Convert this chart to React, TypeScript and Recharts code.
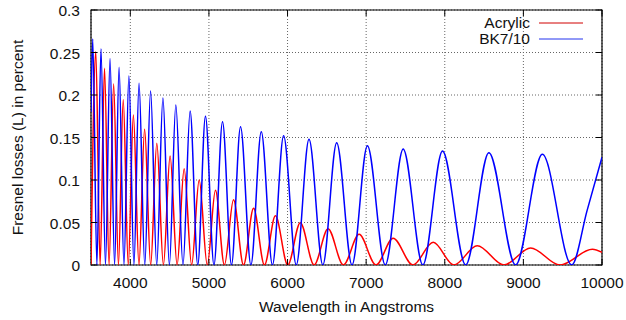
import { LineChart, Line, XAxis, YAxis, CartesianGrid, Legend, ReferenceArea } from "recharts";

// tick values
const wavelengthTicks = [4000, 5000, 6000, 7000, 8000, 9000, 10000];
const lossTicks = [0, 0.05, 0.1, 0.15, 0.2, 0.25, 0.3];

// [wavelength (A), loss]: fringe maxima and the zeros between them
const acrylic = [
  [3500, 0], [3561, 0.251], [3616, 0], [3672, 0.2314], [3730, 0], [3788, 0.213],
  [3849, 0], [3910, 0.1945], [3974, 0], [4039, 0.1765], [4110, 0], [4182, 0.1596],
  [4259, 0], [4337, 0.1431], [4421, 0], [4506, 0.1282], [4595, 0], [4685, 0.1133],
  [4780, 0], [4876, 0.1], [4979, 0], [5083, 0.0879], [5197, 0], [5313, 0.0768],
  [5440, 0], [5568, 0.0667], [5706, 0], [5846, 0.0578], [6003, 0], [6162, 0.0498],
  [6338, 0], [6515, 0.0427], [6710, 0], [6910, 0.0361], [7125, 0], [7343, 0.0314],
  [7595, 0], [7853, 0.0267], [8115, 0], [8413, 0.0227], [8752, 0], [9092, 0.02],
  [9465, 0], [9878, 0.0185], [10000, 0.015],
];

const bk7 = [
  [3500, 0.18], [3522, 0.266], [3575, 0], [3627, 0.2545], [3684, 0], [3742, 0.243],
  [3800, 0], [3857, 0.2326], [3919, 0], [3982, 0.2224], [4046, 0], [4111, 0.2138],
  [4184, 0], [4258, 0.2047], [4336, 0], [4415, 0.1965], [4497, 0], [4579, 0.1882],
  [4670, 0], [4761, 0.1812], [4858, 0], [4956, 0.175], [5064, 0], [5173, 0.1686],
  [5287, 0], [5402, 0.1627], [5534, 0], [5666, 0.1568], [5808, 0], [5950, 0.152],
  [6111, 0], [6273, 0.1478], [6449, 0], [6625, 0.1439], [6820, 0], [7016, 0.1404],
  [7243, 0], [7471, 0.1365], [7721, 0], [7971, 0.134], [8266, 0], [8561, 0.1321],
  [8901, 0], [9241, 0.1302], [9615, 0], [9810, 0.064], [10000, 0.1267],
];

const toRows = (pts: number[][]) => pts.map(([wl, loss]) => ({ wl, loss }));

const RED = "#ff0000";
const BLUE = "#0000ff";
const seriesColor: Record<string, string> = { Acrylic: "#d00000", "BK7/10": "#2233ee" };

const W = 626;
const H = 320;
const MARGIN = { top: 10, right: 24, bottom: 0, left: 0 };
const Y_AXIS_W = 91;
const X_AXIS_H = 55;
const PLOT_LEFT = MARGIN.left + Y_AXIS_W;
const PLOT_RIGHT = W - MARGIN.right;
const PLOT_TOP = MARGIN.top;
const PLOT_BOTTOM = H - MARGIN.bottom - X_AXIS_H;
const TICK = 6;
const FONT = "'Liberation Sans', Arial, Helvetica, sans-serif";
const FS = 15.5;
const INK = "#111";

// gnuplot style: labels outside, tick marks inside on both mirrored sides
function XTick({ x, y, payload }: any) {
  return (
    <g>
      <line x1={x} x2={x} y1={PLOT_BOTTOM} y2={PLOT_BOTTOM - TICK} stroke="#000" />
      <line x1={x} x2={x} y1={PLOT_TOP} y2={PLOT_TOP + TICK} stroke="#000" />
      <text x={x} y={y} textAnchor="middle" fontFamily={FONT} fontSize={FS} fill={INK}>
        {payload.value}
      </text>
    </g>
  );
}

function YTick({ x, y, payload }: any) {
  return (
    <g>
      <line x1={PLOT_LEFT} x2={PLOT_LEFT + TICK} y1={y} y2={y} stroke="#000" />
      <line x1={PLOT_RIGHT} x2={PLOT_RIGHT - TICK} y1={y} y2={y} stroke="#000" />
      <text x={x} y={y} dy="0.4em" textAnchor="end" fontFamily={FONT} fontSize={FS} fill={INK}>
        {payload.value}
      </text>
    </g>
  );
}

function Key({ payload }: any) {
  return (
    <div style={{ fontFamily: FONT, fontSize: FS, color: INK }}>
      {(payload || []).map((p: any) => (
        <div
          key={p.value}
          style={{ display: "flex", alignItems: "center", justifyContent: "flex-end", height: 16 }}
        >
          <span style={{ lineHeight: "16px" }}>{p.value}</span>
          <svg width={44} height={4} style={{ marginLeft: 9, display: "block" }}>
            <line x1={0} x2={44} y1={2} y2={2} stroke={seriesColor[p.value] || "#000"} strokeWidth={1} />
          </svg>
        </div>
      ))}
    </div>
  );
}

export default function App() {
  return (
    <div style={{ width: W, height: H }}>
      <style>{`body{margin:0}`}</style>
      <LineChart width={W} height={H} margin={MARGIN}>
        <CartesianGrid stroke="#666" strokeDasharray="1 2" />
        <XAxis
          type="number"
          dataKey="wl"
          domain={[3500, 10000]}
          ticks={wavelengthTicks}
          allowDataOverflow
          height={X_AXIS_H}
          axisLine={false}
          tickLine={false}
          tickSize={0}
          tickMargin={23}
          tick={<XTick />}
          label={() => (
            <text
              x={(PLOT_LEFT + PLOT_RIGHT) / 2}
              y={312}
              textAnchor="middle"
              fontFamily={FONT}
              fontSize={FS}
              fill={INK}
            >
              Wavelength in Angstroms
            </text>
          )}
        />
        <YAxis
          type="number"
          dataKey="loss"
          domain={[0, 0.3]}
          ticks={lossTicks}
          allowDataOverflow
          width={Y_AXIS_W}
          axisLine={false}
          tickLine={false}
          tickSize={0}
          tickMargin={11}
          tick={<YTick />}
          label={() => (
            <text
              x={23}
              y={(PLOT_TOP + PLOT_BOTTOM) / 2}
              transform={`rotate(-90 23 ${(PLOT_TOP + PLOT_BOTTOM) / 2})`}
              textAnchor="middle"
              fontFamily={FONT}
              fontSize={FS}
              fill={INK}
            >
              Fresnel losses (L) in percent
            </text>
          )}
        />
        <Legend
          layout="vertical"
          align="center"
          verticalAlign="middle"
          content={<Key />}
          wrapperStyle={{ top: 15, right: 43, left: "auto", width: "auto" }}
        />
        <Line
          data={toRows(acrylic)}
          dataKey="loss"
          name="Acrylic"
          type="monotone"
          stroke={RED}
          strokeWidth={1.5}
          dot={false}
          activeDot={false}
          isAnimationActive={false}
        />
        <Line
          data={toRows(bk7)}
          dataKey="loss"
          name="BK7/10"
          type="monotone"
          stroke={BLUE}
          strokeWidth={1.5}
          dot={false}
          activeDot={false}
          isAnimationActive={false}
        />
        <ReferenceArea x1={3500} x2={10000} y1={0} y2={0.3} fill="none" stroke="#000" strokeWidth={1.2} />
      </LineChart>
    </div>
  );
}
